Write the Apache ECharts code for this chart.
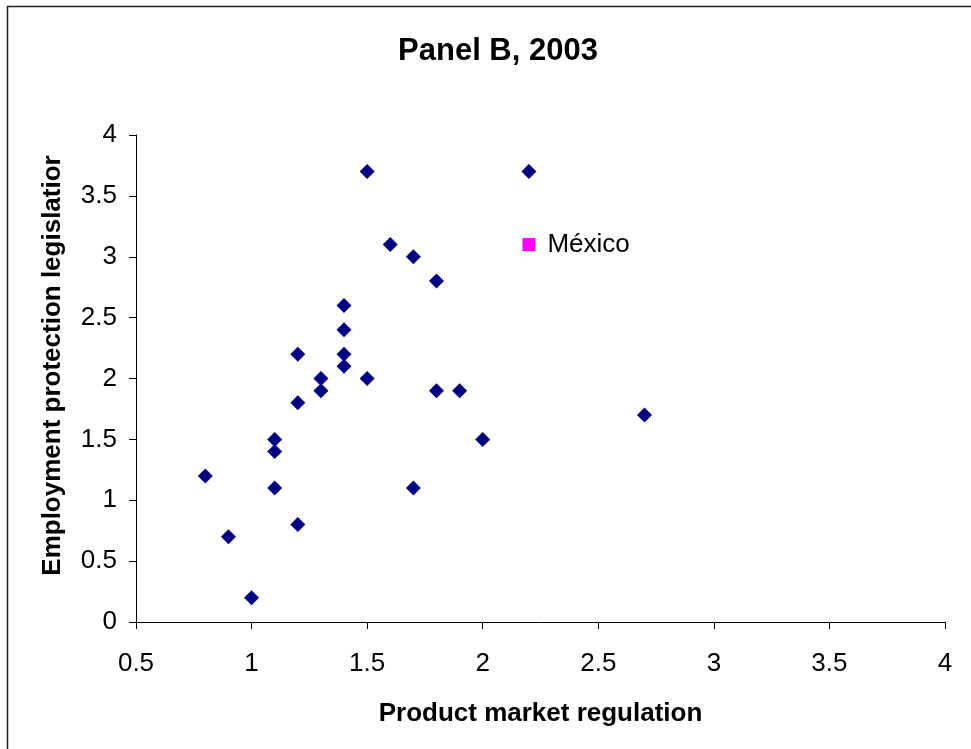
<!DOCTYPE html>
<html><head><meta charset="utf-8">
<script src="https://cdn.jsdelivr.net/npm/echarts@6/dist/echarts.min.js"></script>
<style>html,body{margin:0;padding:0;background:#fff}#c{width:971px;height:749px}</style>
</head><body><div id="c"></div>
<script>
const titleText = "Panel B, 2003";
const xName = "Product market regulation";
const yName = "Employment protection legislatior";
const pmr = [0.8,0.9,1.0,1.1,1.1,1.1,1.2,1.2,1.2,1.3,1.3,1.4,1.4,1.4,1.4,1.5,1.5,1.6,1.7,1.7,1.8,1.8,1.9,2.0,2.2,2.7];
const epl = [1.2,0.7,0.2,1.5,1.4,1.1,2.2,1.8,0.8,2.0,1.9,2.6,2.4,2.2,2.1,3.7,2.0,3.1,3.0,1.1,2.8,1.9,1.9,1.5,3.7,1.7];
const mexicoLabel = "México";
const mexicoPoint = [2.2, 3.1];

const chart = echarts.init(document.getElementById('c'));
const font = "Liberation Sans, Arial, sans-serif";
chart.setOption({
  animation: false,
  backgroundColor: '#fff',
  graphic: [{type:'rect', shape:{x:7.5,y:6.5,width:990,height:790}, style:{fill:'none', stroke:'#222', lineWidth:1.5}}],
  title: {text: titleText, left: 493, top: 31, textAlign: 'center',
    textStyle:{fontFamily:font, fontSize:31, fontWeight:'bold', color:'#000'}},
  grid: {left:136, right:26, top:135, bottom:127},
  xAxis: {type:'value', min:0.5, max:4, interval:0.5,
    name: xName, nameLocation:'middle', nameGap:79,
    nameTextStyle:{fontFamily:font, fontSize:26, fontWeight:'bold', color:'#000'},
    axisLine:{show:true, onZero:false, lineStyle:{color:'#000', width:1}},
    axisTick:{show:true, inside:false, length:7, lineStyle:{color:'#000'}},
    axisLabel:{margin:29, fontFamily:font, fontSize:26, color:'#000', formatter: v => String(Math.round(v*10)/10)},
    splitLine:{show:false}},
  yAxis: {type:'value', min:0, max:4, interval:0.5,
    name: yName, nameLocation:'middle', nameGap:70,
    nameTextStyle:{fontFamily:font, fontSize:26, fontWeight:'bold', color:'#000', padding:[0,0,0,26]},
    axisLine:{show:true, lineStyle:{color:'#000', width:1}},
    axisTick:{show:true, inside:false, length:7, lineStyle:{color:'#000'}},
    axisLabel:{margin:19, fontFamily:font, fontSize:26, color:'#000', formatter: v => String(Math.round(v*10)/10)},
    splitLine:{show:false}},
  series: [
    {type:'scatter', symbol:'diamond', symbolSize:[15,15], itemStyle:{color:'#000080', opacity:1},
      data: pmr.map((x,i)=>[x, epl[i]])},
    {type:'scatter', symbol:'rect', symbolSize:13, itemStyle:{color:'#ff00ff', opacity:1},
      data:[mexicoPoint],
      label:{show:true, position:'right', distance:12, formatter: mexicoLabel,
        fontFamily:font, fontSize:26, color:'#000'}}
  ]
});
</script></body></html>
